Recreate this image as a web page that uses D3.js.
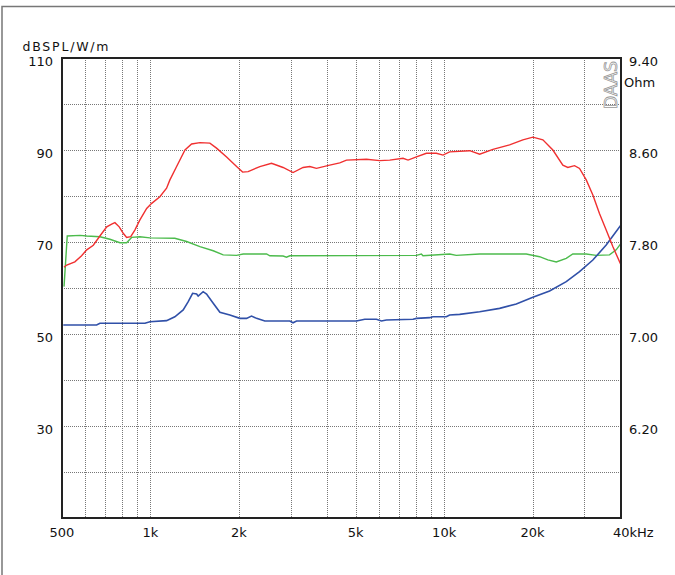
<!DOCTYPE html>
<html><head><meta charset="utf-8">
<script src="https://cdn.jsdelivr.net/npm/d3@7"></script>
<style>html,body{margin:0;padding:0;background:#fff;}svg{display:block;}</style>
</head><body>
<svg id="c" width="675" height="575"></svg>
<script>
// Frequency response (dB SPL, left axis) — on-axis (red)
const splOnAxis = [[508,64.5],[519,65.0],[553,65.7],[583,67.0],[607,68.3],[639,69.3],[673,71.3],[710,73.3],[738,73.9],[757,74.2],[783,73.3],[808,71.9],[830,71.0],[857,71.15],[885,72.6],[921,74.8],[971,77.3],[1010,78.4],[1077,79.85],[1135,81.7],[1165,83.5],[1228,86.4],[1311,90],[1381,91.3],[1474,91.6],[1594,91.5],[1679,90.4],[1817,88.5],[1965,86.4],[2060,85.2],[2151,85.3],[2358,86.4],[2584,87.1],[2829,86.2],[3059,85.1],[3309,86.2],[3488,86.4],[3675,86.0],[4079,86.7],[4411,87.2],[4650,87.8],[5440,88.0],[6035,87.7],[6525,87.8],[7245,88.2],[7535,87.8],[8045,88.5],[8700,89.3],[9410,89.3],[9910,88.9],[10440,89.6],[12210,89.85],[13210,89.1],[14655,90.15],[16700,91.1],[18535,92.2],[20045,92.8],[21680,92.2],[23450,90],[25355,86.7],[26360,86.2],[27790,86.6],[28900,86.0],[30460,83.5],[32080,80.2],[33785,76.2],[35615,72.6],[37515,69.0],[40000,65]];
// second response (green, left axis)
const splSecond = [[508,60.3],[521,71.3],[576,71.45],[607,71.3],[673,71.15],[728,70.6],[787,69.85],[830,69.85],[863,71.0],[921,71.15],[996,70.9],[1211,70.8],[1328,70.1],[1474,69.0],[1636,68.1],[1769,67.2],[1965,67.1],[2069,67.4],[2485,67.4],[2550,67.0],[2829,66.96],[2905,66.7],[2983,67.0],[8045,67.1],[8365,67.4],[8470,67.0],[10440,67.4],[11000,67.1],[13210,67.4],[19035,67.4],[21130,66.8],[22545,66.1],[24085,65.65],[26040,66.45],[27415,67.4],[30460,67.4],[32935,67.1],[36550,67.2],[38515,68.3],[40000,69.7]];
// impedance (Ohm, right axis, blue)
const impedance = [[505,7.078],[656,7.078],[673,7.093],[958,7.093],[996,7.107],[1135,7.116],[1211,7.15],[1293,7.209],[1345,7.281],[1392,7.354],[1436,7.348],[1454,7.33],[1512,7.368],[1553,7.348],[1636,7.267],[1724,7.189],[1864,7.165],[2016,7.136],[2124,7.136],[2209,7.156],[2297,7.136],[2452,7.113],[2983,7.113],[3059,7.098],[3144,7.113],[5028,7.113],[5367,7.128],[5882,7.128],[6115,7.113],[6358,7.122],[7834,7.128],[8045,7.136],[8929,7.142],[9160,7.15],[10173,7.15],[10440,7.165],[11290,7.171],[13210,7.194],[15445,7.223],[17604,7.261],[20045,7.319],[22850,7.374],[26040,7.455],[28900,7.542],[32080,7.643],[35615,7.774],[37515,7.852],[40000,7.948]];

const xTickValues = [500,1000,2000,5000,10000,20000,40000];
const xTickLabels = ["500","1k","2k","5k","10k","20k","40kHz"];
const xGridValues = [600,700,800,900,1000,2000,3000,4000,5000,6000,7000,8000,9000,10000,20000,30000];
const yGridValues = [20,30,40,50,60,70,80,90,100];
const yTickValues = [110,90,70,50,30];
const ohmTickValues = [9.40,8.60,7.80,7.00,6.20];

const L=62, R=621, T=58, B=518;
const svg = d3.select("#c");
const font = "DejaVu Sans, Arial, sans-serif";

const x = d3.scaleLog().domain([500,40000]).range([L,R]);
const y = d3.scaleLinear().domain([10,110]).range([B,T]);
const yo = d3.scaleLinear().domain([5.4,9.4]).range([B,T]);

// outer frame
svg.append("path").attr("d",`M2,575 V6.5 H675`).attr("fill","none").attr("stroke","#777").attr("stroke-width",1.5);

// grid
const g = svg.append("g");
g.selectAll("line.h").data(yGridValues).join("line")
  .attr("x1",L).attr("x2",R).attr("y1",d=>Math.round(y(d))+0.5).attr("y2",d=>Math.round(y(d))+0.5)
  .attr("stroke","#777").attr("stroke-dasharray","1,1").attr("stroke-width",1);
g.selectAll("line.v").data(xGridValues).join("line")
  .attr("y1",T).attr("y2",B).attr("x1",d=>Math.round(x(d))+0.5).attr("x2",d=>Math.round(x(d))+0.5)
  .attr("stroke","#777").attr("stroke-dasharray","1,1").attr("stroke-width",1);

// DAAS watermark
svg.append("text").attr("transform",`translate(617,109) rotate(-90)`)
  .attr("font-family",font).attr("font-size",17).attr("fill","#fff").attr("stroke","#999").attr("stroke-width",0.8)
  .attr("textLength",48).attr("lengthAdjust","spacingAndGlyphs").text("DAAS");

// curves
const line = (ys)=>d3.line().x(d=>x(d[0])).y(d=>ys(d[1]));
svg.append("clipPath").attr("id","pc").append("rect").attr("x",L).attr("y",T).attr("width",R-L).attr("height",B-T);
const curves = svg.append("g").attr("clip-path","url(#pc)");
curves.append("path").datum(splSecond).attr("d",line(y)).attr("fill","none").attr("stroke","#4cbb4c").attr("stroke-width",1.4);
curves.append("path").datum(impedance).attr("d",line(yo)).attr("fill","none").attr("stroke","#3050a8").attr("stroke-width",1.6);
curves.append("path").datum(splOnAxis).attr("d",line(y)).attr("fill","none").attr("stroke","#f03030").attr("stroke-width",1.4);

// plot border
svg.append("rect").attr("x",L).attr("y",T).attr("width",R-L).attr("height",B-T)
  .attr("fill","none").attr("stroke","#222").attr("stroke-width",2);

// axes labels
svg.append("g").selectAll("text").data(yTickValues).join("text")
  .attr("x",53).attr("y",d=>y(d)+7.5).attr("text-anchor","end")
  .attr("font-family",font).attr("font-size",13).attr("fill","#111").text(d=>d);
svg.append("g").selectAll("text").data(ohmTickValues).join("text")
  .attr("x",629).attr("y",d=>yo(d)+8).attr("text-anchor","start")
  .attr("font-family",font).attr("font-size",13).attr("fill","#111").text(d=>d.toFixed(2));
svg.append("text").attr("x",624).attr("y",86.5).attr("font-family",font).attr("font-size",13).attr("fill","#111").text("Ohm");
svg.append("text").attr("x",22.5).attr("y",50.5).attr("font-family",font).attr("font-size",12.5).attr("fill","#111")
  .attr("textLength",86).attr("lengthAdjust","spacing").text("dBSPL/W/m");
svg.append("g").selectAll("text").data(xTickValues).join("text")
  .attr("x",(d,i)=> i===xTickValues.length-1 ? x(d)-8 : x(d))
  .attr("y",536.5).attr("text-anchor",(d,i)=> i===xTickValues.length-1 ? "start":"middle")
  .attr("font-family",font).attr("font-size",13).attr("fill","#111").text((d,i)=>xTickLabels[i]);
</script>
</body></html>
